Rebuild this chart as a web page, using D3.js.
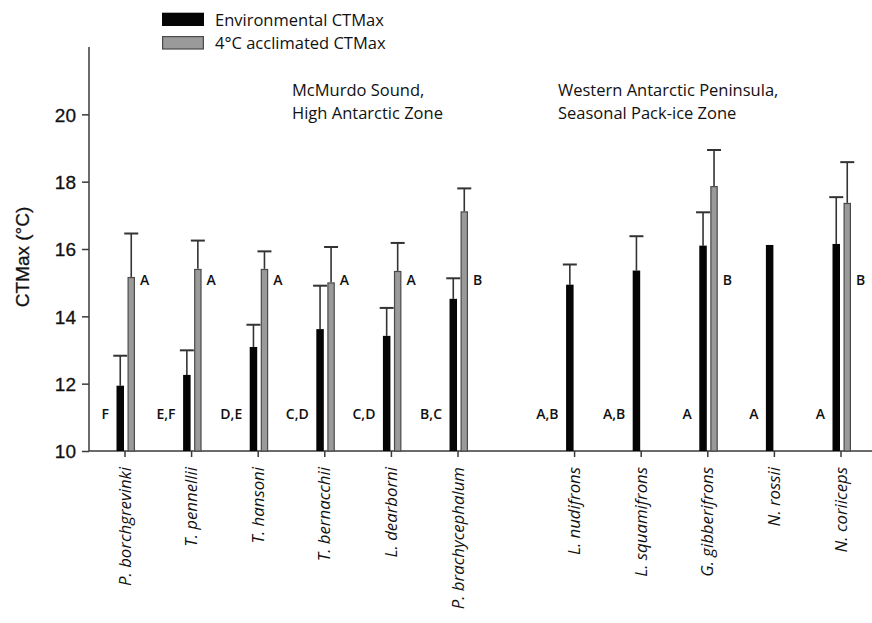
<!DOCTYPE html>
<html>
<head>
<meta charset="utf-8">
<script src="https://cdn.jsdelivr.net/npm/d3@7"></script>
<style>
  html, body { margin: 0; padding: 0; background: #fff; }
  svg { display: block; }
</style>
</head>
<body>
<svg id="chart" width="872" height="623"></svg>
<script>
// Species (x categories), in plotting order
const species = [
  "P. borchgrevinki", "T. pennellii", "T. hansoni", "T. bernacchii",
  "L. dearborni", "P. brachycephalum",
  "L. nudifrons", "L. squamifrons", "G. gibberifrons", "N. rossii", "N. coriiceps"
];
// Environmental CTMax means and upper error (mean + SD)
const envMean  = [11.94, 12.26, 13.09, 13.62, 13.42, 14.52, 14.94, 15.36, 16.10, 16.12, 16.15];
const envUpper = [12.83, 12.99, 13.75, 14.91, 14.25, 15.13, 15.54, 16.38, 17.09, null,  17.54];
// 4 °C acclimated CTMax means and upper error (null = not measured)
const accMean  = [15.17, 15.41, 15.41, 15.01, 15.35, 17.12, null, null, 17.87, null, 17.37];
const accUpper = [16.46, 16.25, 15.93, 16.06, 16.18, 17.80, null, null, 18.94, null, 18.58];
// Significance letters
const envLetters = ["F", "E,F", "D,E", "C,D", "C,D", "B,C", "A,B", "A,B", "A", "A", "A"];
const accLetters = ["A", "A", "A", "A", "A", "B", null, null, "B", null, "B"];
// Y axis ticks
const yTicks = [10, 12, 14, 16, 18, 20];
// Region headings
const regionMcMurdo = ["McMurdo Sound,", "High Antarctic Zone"];
const regionWAP = ["Western Antarctic Peninsula,", "Seasonal Pack-ice Zone"];
const legendItems = ["Environmental CTMax", "4°C acclimated CTMax"];

const svg = d3.select("#chart");
const axisColor = "#3a3a3a";
const humanist = "'Open Sans', 'Noto Sans', sans-serif";
const helv = "'Liberation Sans', Arial, sans-serif";

// Two groups of species separated by a wider gap
const groupGap = 0.75;
const slot = i => i + (i >= 6 ? groupGap : 0);
const x = d3.scaleLinear().domain([0, 10 + groupGap]).range([125, 841]);
const y = d3.scaleLinear().domain([10, 22]).range([451, 47]);

const barW = 7.5;
const capW = 14;

// Y axis
const yAxis = svg.append("g")
  .attr("transform", "translate(89,0)")
  .call(d3.axisLeft(y).tickValues(yTicks).tickSize(7).tickPadding(6).tickFormat(d3.format("d")));
yAxis.select(".domain").attr("d", `M0,${y(22)}V${y(10)}`);
yAxis.selectAll("line, path").attr("stroke", axisColor).attr("stroke-width", 1.5);
yAxis.selectAll("text").attr("font-family", helv).attr("font-size", 19).attr("fill", "#111")
  .attr("dy", "0.36em").attr("stroke", "#111").attr("stroke-width", 0.3);

// X axis line and ticks
svg.append("line")
  .attr("x1", 89).attr("x2", 872).attr("y1", y(10)).attr("y2", y(10))
  .attr("stroke", axisColor).attr("stroke-width", 1.5);
const xg = svg.append("g");
species.forEach((s, i) => {
  const cx = x(slot(i));
  xg.append("line")
    .attr("x1", cx).attr("x2", cx).attr("y1", y(10)).attr("y2", y(10) + 6)
    .attr("stroke", axisColor).attr("stroke-width", 1.5);
  xg.append("text")
    .attr("transform", `translate(${cx + 5.5},${y(10) + 16}) rotate(-90)`)
    .attr("text-anchor", "end")
    .attr("font-family", humanist).attr("font-style", "italic").attr("font-weight", 500)
    .attr("font-size", 16.8)
    .attr("fill", "#111")
    .text(s);
});

// Y axis title
svg.append("text")
  .attr("transform", `translate(29,${257}) rotate(-90)`)
  .attr("text-anchor", "middle")
  .attr("font-family", helv).attr("font-size", 19).attr("fill", "#111")
  .attr("stroke", "#111").attr("stroke-width", 0.3)
  .text("CTMax (°C)");

// Bars
const bars = svg.append("g");
species.forEach((s, i) => {
  const cx = x(slot(i));
  // environmental (black)
  const bx = cx - 8.5;
  if (envUpper[i] != null) {
    bars.append("line")
      .attr("x1", bx + barW / 2).attr("x2", bx + barW / 2)
      .attr("y1", y(envMean[i])).attr("y2", y(envUpper[i]))
      .attr("stroke", "#333").attr("stroke-width", 1.6);
    bars.append("line")
      .attr("x1", bx + barW / 2 - capW / 2).attr("x2", bx + barW / 2 + capW / 2)
      .attr("y1", y(envUpper[i])).attr("y2", y(envUpper[i]))
      .attr("stroke", "#333").attr("stroke-width", 2);
  }
  bars.append("rect")
    .attr("x", bx).attr("width", barW)
    .attr("y", y(envMean[i])).attr("height", y(10) - y(envMean[i]))
    .attr("fill", "#050505");
  // acclimated (grey)
  if (accMean[i] != null) {
    const gx = cx + 2.5;
    bars.append("line")
      .attr("x1", gx + barW / 2).attr("x2", gx + barW / 2)
      .attr("y1", y(accMean[i])).attr("y2", y(accUpper[i]))
      .attr("stroke", "#333").attr("stroke-width", 1.6);
    bars.append("line")
      .attr("x1", gx + barW / 2 - capW / 2).attr("x2", gx + barW / 2 + capW / 2)
      .attr("y1", y(accUpper[i])).attr("y2", y(accUpper[i]))
      .attr("stroke", "#333").attr("stroke-width", 2);
    bars.append("rect")
      .attr("x", gx + 0.6).attr("width", barW - 1.2)
      .attr("y", y(accMean[i]) + 0.6).attr("height", y(10) - y(accMean[i]) - 0.6)
      .attr("fill", "#9a9a9a").attr("stroke", "#4a4a4a").attr("stroke-width", 1.2);
  }
  // significance letters
  bars.append("text")
    .attr("x", cx - 16).attr("y", 419)
    .attr("text-anchor", "end")
    .attr("font-family", humanist).attr("font-weight", 600).attr("font-size", 14)
    .attr("fill", "#111")
    .text(envLetters[i]);
  if (accLetters[i] != null) {
    bars.append("text")
      .attr("x", cx + 15).attr("y", 285)
      .attr("font-family", humanist).attr("font-weight", 600).attr("font-size", 14)
      .attr("fill", "#111")
      .text(accLetters[i]);
  }
});

// Region headings
function heading(lines, x0) {
  lines.forEach((t, k) => {
    svg.append("text")
      .attr("x", x0).attr("y", 96 + k * 22.5)
      .attr("font-family", humanist).attr("font-weight", 500).attr("font-size", 16.5)
      .attr("fill", "#111")
      .text(t);
  });
}
heading(regionMcMurdo, 292);
heading(regionWAP, 558);

// Legend
const leg = svg.append("g");
leg.append("rect").attr("x", 162).attr("y", 12.7).attr("width", 42).attr("height", 13.3).attr("fill", "#050505");
leg.append("rect").attr("x", 162.6).attr("y", 36.6).attr("width", 40.8).attr("height", 12.4)
  .attr("fill", "#9a9a9a").attr("stroke", "#4a4a4a").attr("stroke-width", 1.2);
legendItems.forEach((t, k) => {
  leg.append("text")
    .attr("x", 215).attr("y", 25.5 + k * 23.5)
    .attr("font-family", humanist).attr("font-weight", 500).attr("font-size", 16.5)
    .attr("fill", "#111")
    .text(t);
});
</script>
</body>
</html>
